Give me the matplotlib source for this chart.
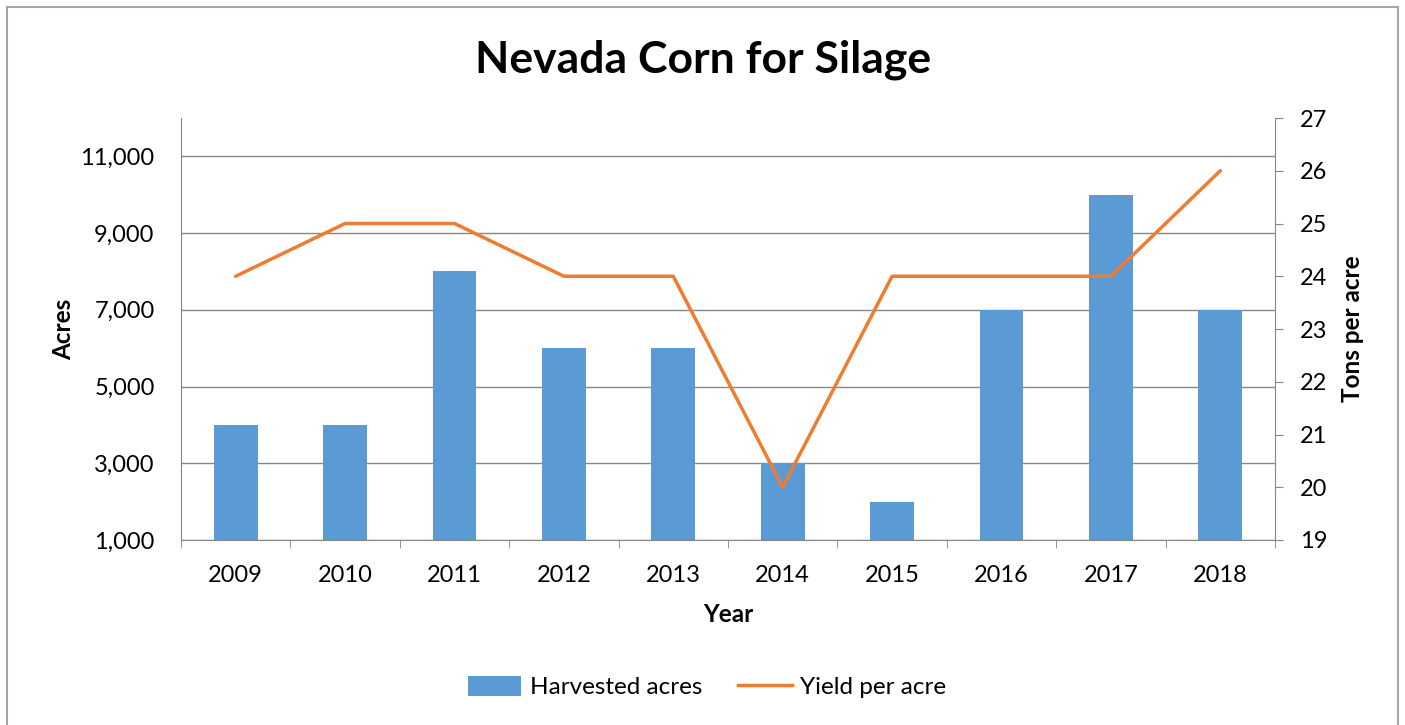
import matplotlib
matplotlib.use("Agg")
import matplotlib.pyplot as plt
from matplotlib.lines import Line2D
from matplotlib.patches import Patch
from matplotlib.ticker import FuncFormatter, FixedLocator
import numpy as np

plt.rcParams['font.family'] = ['Lato', 'DejaVu Sans']

years = ["2009", "2010", "2011", "2012", "2013", "2014", "2015", "2016", "2017", "2018"]
harvested_acres = [4000, 4000, 8000, 6000, 6000, 3000, 2000, 7000, 10000, 7000]
yield_per_acre = [24, 25, 25, 24, 24, 20, 24, 24, 24, 26]
left_ticks = [1000, 3000, 5000, 7000, 9000, 11000]
right_ticks = [19, 20, 21, 22, 23, 24, 25, 26, 27]

W, H = 1405, 725
fig = plt.figure(figsize=(W / 100, H / 100), dpi=100)

# outer chart border
border = "#A6A6A6"
for xs, ys in [([7 / W, 7 / W], [0, 1 - 7 / H]),
               ([7 / W, 1398 / W], [1 - 7 / H, 1 - 7 / H]),
               ([1398 / W, 1398 / W], [0, 1 - 7 / H])]:
    fig.add_artist(Line2D(xs, ys, color=border, lw=1.5, transform=fig.transFigure))

ax = fig.add_axes([181 / W, 1 - 540 / H, (1275 - 181) / W, (540 - 118) / H])
x = np.arange(len(years))
bar_color = "#5B9BD5"
line_color = "#ED7D31"
grid_color = "#868686"

ax.bar(x, harvested_acres, width=0.4, color=bar_color, zorder=2)
ax.set_ylim(1000, 12000)
ax.set_xlim(-0.5, len(years) - 0.5)
ax.yaxis.set_major_locator(FixedLocator(left_ticks))
ax.yaxis.set_major_formatter(FuncFormatter(lambda v, p: f"{int(v):,}"))
ax.set_xticks(x)
ax.set_xticklabels(years)
ax.set_xticks(np.arange(-0.5, len(years), 1), minor=True)
ax.tick_params(axis='x', which='major', length=0, pad=18, labelsize=17)
ax.tick_params(axis='x', which='minor', length=6, color=grid_color, direction='out')
ax.tick_params(axis='y', length=0, pad=19, labelsize=17)
ax.grid(axis='y', color=grid_color, lw=1, zorder=0)
for s in ['top', 'right']:
    ax.spines[s].set_visible(False)
ax.spines['left'].set_color(grid_color)
ax.spines['bottom'].set_color(grid_color)
ax.set_axisbelow(True)

ax2 = ax.twinx()
ax2.plot(x, yield_per_acre, color=line_color, lw=2.5, zorder=3, solid_capstyle='round')
ax2.set_ylim(19, 27)
ax2.yaxis.set_major_locator(FixedLocator(right_ticks))
ax2.tick_params(axis='y', length=6, color=grid_color, direction='out', pad=12, labelsize=17)
for s in ['top', 'left', 'bottom']:
    ax2.spines[s].set_visible(False)
ax2.spines['right'].set_color(grid_color)

ax.set_ylabel("Acres", fontsize=17.5, fontweight='bold', labelpad=4)
ax.set_xlabel("Year", fontsize=17.5, fontweight='bold', labelpad=12)
ax2.set_ylabel("Tons per acre", fontsize=17.5, fontweight='bold', labelpad=10)

fig.text(703 / W, 1 - 60 / H, "Nevada Corn for Silage", ha='center', va='center',
         fontsize=32, fontweight='bold')

handles = [Patch(facecolor=bar_color, label="Harvested acres"),
           Line2D([0], [0], color=line_color, lw=2.5, label="Yield per acre")]
fig.legend(handles=handles, loc='center', bbox_to_anchor=(707 / W, 1 - 687 / H),
           ncol=2, frameon=False, fontsize=17.5, handlelength=2.2, handleheight=0.9,
           columnspacing=1.5, handletextpad=0.35)

fig.savefig("out.png", dpi=100)
